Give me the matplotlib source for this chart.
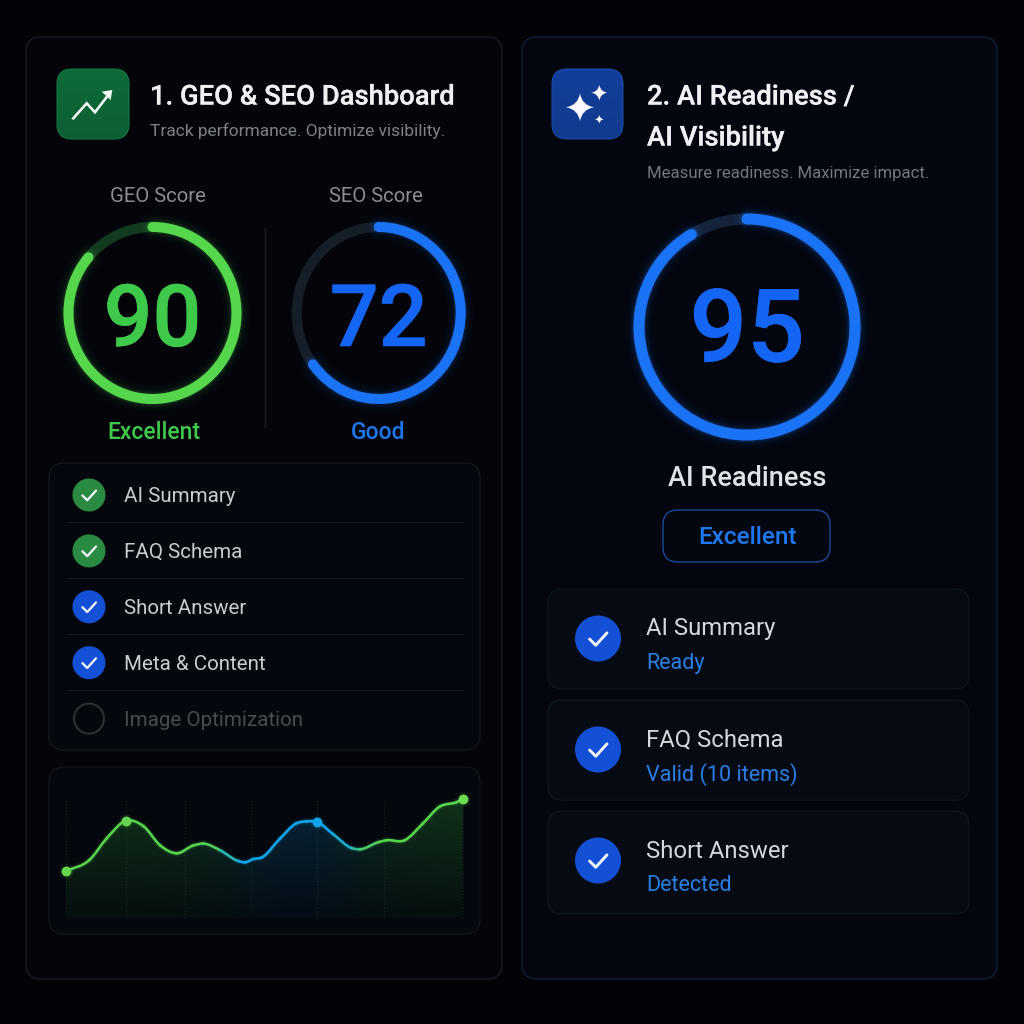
import numpy as np
import matplotlib
matplotlib.use("Agg")
import matplotlib.pyplot as plt
import matplotlib.patheffects as pe
from matplotlib.patches import FancyBboxPatch, Arc, Circle, PathPatch, Polygon
from matplotlib.path import Path
from matplotlib.colors import to_rgb

plt.rcParams['font.family'] = ['Roboto', 'DejaVu Sans']

# ---------- data ----------
left_title = "1. GEO & SEO Dashboard"
left_sub = "Track performance. Optimize visibility."
right_title = ["2. AI Readiness /", "AI Visibility"]
right_sub = "Measure readiness. Maximize impact."

score_names = ["GEO Score", "SEO Score"]
score_values = [90, 72]
score_sweeps = [311, 232]      # arc extent as drawn, degrees
score_grades = ["Excellent", "Good"]
ai_value = 95
ai_sweep = 329
ai_name = "AI Readiness"
ai_grade = "Excellent"

check_labels = ["AI Summary", "FAQ Schema", "Short Answer", "Meta & Content", "Image Optimization"]
check_states = ["green", "green", "blue", "blue", "off"]

card_titles = ["AI Summary", "FAQ Schema", "Short Answer"]
card_subs = ["Ready", "Valid (10 items)", "Detected"]

trend_x = [0, 6.0, 10.2, 15.1, 19.5, 23.7, 27.9, 32.0, 34.6, 38.8, 43.4, 45.1, 47.2, 49.2, 53.9,
           58.0, 60.6, 63.1, 67.3, 71.9, 74.0, 78.6, 80.7, 85.3, 89.9, 94.1, 98.3, 100]
trend_y = [39.5, 49.2, 66.9, 81.9, 77.4, 61.3, 54.5, 61.0, 62.7, 57.1, 48.0, 46.9, 49.7, 50.8, 66.9,
           79.7, 81.4, 81.1, 70.6, 59.0, 57.9, 63.8, 65.5, 65.5, 79.7, 93.8, 97.5, 100]
trend_grid = [0, 15.1, 30.1, 46.6, 63.1, 80, 100]
marker_x = [0, 15.1, 63.1, 100]
marker_y = [39.5, 81.9, 81.1, 100]
marker_c = ["#66d64e", "#66d64e", "#12a4ea", "#6cdc50"]

# ---------- palette ----------
BG = "#020307"
PANEL = "#03050b"
GREEN = "#55d64d"
GREEN_T = "#3fc94a"
BLUE = "#1a72f5"
BLUE_T = "#1565f5"

fig = plt.figure(figsize=(10.24, 10.24), dpi=100, facecolor=BG)
ax = fig.add_axes([0, 0, 1, 1])
ax.set_xlim(0, 1024)
ax.set_ylim(1024, 0)
ax.axis("off")
PX = 0.72


def box(x0, y0, x1, y1, r, fc, ec, lw=1.0, z=1):
    p = FancyBboxPatch((x0, y0), x1 - x0, y1 - y0, boxstyle=f"round,pad=0,rounding_size={r}",
                       fc=fc, ec=ec, lw=lw * PX, zorder=z)
    ax.add_patch(p)
    return p


def ring(cx, cy, rx, ry, w, sweep, color, track, glow=1.0):
    ax.add_patch(Arc((cx, cy), 2 * rx, 2 * ry, theta1=0, theta2=360, color=track, lw=w * PX, zorder=3))
    for extra, al in [(16, .02), (10, .03), (6, .05), (3, .09)]:
        a = Arc((cx, cy), 2 * rx, 2 * ry, theta1=-90, theta2=-90 + sweep, color=color,
                lw=(w + extra) * PX, alpha=al * glow, zorder=3, capstyle="round")
        ax.add_patch(a)
    ax.add_patch(Arc((cx, cy), 2 * rx, 2 * ry, theta1=-90, theta2=-90 + sweep, color=color,
                     lw=w * PX, zorder=4, capstyle="round"))


def label(x, y, s, size, color, weight="normal", ha="left", thick=0.0):
    t = ax.text(x, y, s, fontsize=size, color=color, fontweight=weight, ha=ha, va="center_baseline", zorder=6)
    if thick:
        t.set_path_effects([pe.withStroke(linewidth=thick, foreground=color)])
    return t


def check(cx, cy, r, fc):
    ax.add_patch(Circle((cx, cy), r, fc=fc, ec="none", zorder=4))
    s = r / 16 * (0.85 if r < 20 else 0.78)
    ax.plot([cx - 7.5 * s, cx - 2 * s, cx + 8 * s], [cy + 0.5 * s, cy + 6 * s, cy - 5 * s], color="#f2f6fa",
            lw=2.6 * s * PX, solid_capstyle="round", solid_joinstyle="round", zorder=5)


def icon(x0, y0, x1, y1, r, top, bottom, edge):
    p = box(x0, y0, x1, y1, r, "none", edge, 1.0, 3)
    t = np.linspace(0, 1, 64)[:, None]
    c0, c1 = np.array(to_rgb(top)), np.array(to_rgb(bottom))
    img = (c0 * (1 - t) + c1 * t)[:, None, :]
    im = ax.imshow(img, extent=(x0, x1, y1, y0), aspect="auto", zorder=2.5)
    im.set_clip_path(p)


def star(cx, cy, r):
    tips = [(cx, cy - r), (cx + r, cy), (cx, cy + r), (cx - r, cy)]
    verts, codes = [tips[0]], [Path.MOVETO]
    for i in range(1, 5):
        verts += [(cx + 0.14 * (tips[i - 1][0] + tips[i % 4][0] - 2 * cx),
                   cy + 0.14 * (tips[i - 1][1] + tips[i % 4][1] - 2 * cy)), tips[i % 4]]
        codes += [Path.CURVE3, Path.CURVE3]
    ax.add_patch(PathPatch(Path(verts, codes), fc="#f7f9fc", ec="none", zorder=5))


# ---------- panels ----------
box(26, 37, 502, 979, 15, PANEL, "#1a2027", 1.2)
box(522, 37, 997, 979, 15, "#03060e", "#10243f", 1.2)

# ---------- left header ----------
icon(57, 69, 129, 139, 15, "#0e6b38", "#0c5f33", "#17794a")
ax.plot([73.3, 86.7, 95, 109], [118.3, 103.3, 112.3, 94], color="#f3f7f5", lw=2.6 * PX, zorder=5,
        solid_joinstyle="miter")
ax.add_patch(Polygon([(101.7, 91.7), (112.3, 90), (110.7, 100)], fc="#f3f7f5", ec="none", zorder=5))
label(150, 94, left_title, 19.7, "#eef0f2", "medium", thick=0.2)
label(150, 129, left_sub, 12.5, "#7d8186")

# ---------- gauges ----------
centers = [(152.5, 313, 84, 86, 10), (378.7, 313, 82, 86, 10)]
tracks = ["#123a1f", "#151d27"]
cols = [GREEN, BLUE]
tcols = [GREEN_T, BLUE_T]
name_x = [158, 376]
grade_x = [154, 378]
for i, (cx, cy, rx, ry, w) in enumerate(centers):
    label(name_x[i], 195, score_names[i], 14.6, "#8a8e93", ha="center")
    ring(cx, cy, rx, ry, w, score_sweeps[i], cols[i], tracks[i])
    label(cx, 314, str(score_values[i]), 62, tcols[i], "medium", ha="center", thick=0.4)
    label(grade_x[i], 430, score_grades[i], 16.5, tcols[i] if i == 0 else "#1f76ec", "medium", ha="center")
ax.plot([265, 265], [228, 427], color="#1c2127", lw=1.2 * PX, zorder=2)

# ---------- left checklist ----------
box(49, 463, 480, 750, 15, "#04070d", "#171c23", 1.0)
for yy in [522, 578, 634, 690]:
    ax.plot([66, 462], [yy, yy], color="#12171d", lw=1 * PX, zorder=2)
for i, (lab, st) in enumerate(zip(check_labels, check_states)):
    yy = 495 + i * 55.9
    if st == "off":
        ax.add_patch(Circle((89, yy), 15, fc="none", ec="#2d3237", lw=2 * PX, zorder=4))
        label(124, yy - 0.5, lab, 14.8, "#484c51")
    else:
        check(89, yy, 16.5, "#2a8a41" if st == "green" else "#1350d6")
        label(124, yy - 0.5, lab, 14.8, "#c9ccd0")

# ---------- trend ----------
box(49, 767, 480, 934, 15, "#04070d", "#14191f", 1.0)
cax = fig.add_axes([66 / 1024, 1 - 918 / 1024, (463 - 66) / 1024, (918 - 799.3) / 1024], zorder=5)
cax.set_xlim(0, 100)
cax.set_ylim(0, 100)
cax.patch.set_alpha(0)
cax.axis("off")
tx, ty = np.array(trend_x), np.array(trend_y)

# Bezier handles so the read points are joined by a smooth curve
slopes = np.gradient(ty, tx)
verts = [(tx[0], ty[0])]
codes = [Path.MOVETO]
seg_paths = []
for i in range(len(tx) - 1):
    h = (tx[i + 1] - tx[i]) / 3
    c1 = (tx[i] + h, ty[i] + h * slopes[i])
    c2 = (tx[i + 1] - h, ty[i + 1] - h * slopes[i + 1])
    end = (tx[i + 1], ty[i + 1])
    seg_paths.append(Path([(tx[i], ty[i]), c1, c2, end], [Path.MOVETO, Path.CURVE4, Path.CURVE4, Path.CURVE4]))
    verts += [c1, c2, end]
    codes += [Path.CURVE4] * 3
verts += [(100, 0), (0, 0), (0, ty[0])]
codes += [Path.LINETO] * 3

gw = np.linspace(0, 100, 256)
gh = np.linspace(1, 0, 128)
blue_w = np.exp(-((gw - 58) / 20) ** 2)[None, :, None]
g_col = np.array(to_rgb("#2f9a35"))[None, None, :]
b_col = np.array(to_rgb("#0f6fa8"))[None, None, :]
rgb = np.broadcast_to(g_col * (1 - blue_w) + b_col * blue_w, (128, 256, 3))
alpha = np.broadcast_to((0.05 + 0.24 * gh)[:, None, None], (128, 256, 1))
im = cax.imshow(np.concatenate([rgb, alpha], axis=2), extent=(0, 100, 0, 100), aspect="auto", zorder=1)
fill = PathPatch(Path(verts, codes), transform=cax.transData, fc="none", ec="none")
cax.add_patch(fill)
im.set_clip_path(fill)
cax.set_xlim(0, 100)
cax.set_ylim(0, 100)

for gx in trend_grid:
    cax.plot([gx, gx], [0, 100], color="#141f1e", lw=0.8, ls=(0, (1, 2)), zorder=0.5, clip_on=False)
cax.plot([0, 100], [0, 0], color="#0e171a", lw=0.8, zorder=1)

mid_x = 0.5 * (tx[:-1] + tx[1:])
bw = np.clip((mid_x - 36) / 8, 0, 1) * np.clip((78 - mid_x) / 10, 0, 1)
c_g, c_b = np.array(to_rgb("#58d34c")), np.array(to_rgb("#12a6ec"))
seg_cols = c_g[None, :] * (1 - bw[:, None]) + c_b[None, :] * bw[:, None]
for lw, al, z in [(7, .05, 2), (4.5, .08, 2), (2.6, 1, 3)]:
    for sp, sc in zip(seg_paths, seg_cols):
        cax.add_patch(PathPatch(sp, fc="none", ec=sc, lw=lw * PX, alpha=al, capstyle="round", zorder=z))
for mx, my, mc in zip(marker_x, marker_y, marker_c):
    cax.scatter([mx], [my], s=110, color=mc, alpha=.10, linewidths=0, zorder=4, clip_on=False)
    cax.scatter([mx], [my], s=(11 * PX) ** 2 * 0.8, color=mc, linewidths=0, zorder=5, clip_on=False)

# ---------- right header ----------
icon(552, 69, 623, 139, 15, "#123f9c", "#123a8c", "#1a4fb0")
star(580, 107.3, 14)
star(599.3, 92.7, 8)
star(599.3, 119.3, 4.5)
label(647, 94, right_title[0], 19.7, "#eef0f2", "medium", thick=0.2)
label(647, 135, right_title[1], 19.7, "#eef0f2", "medium", thick=0.2)
label(647, 172, right_sub, 12.1, "#74787d")

# ---------- AI gauge ----------
ring(747, 327, 108, 108, 11, ai_sweep, BLUE, "#14233a", 1.4)
label(747, 324, str(ai_value), 73, BLUE_T, "medium", ha="center", thick=0.5)
label(747, 476, ai_name, 19.5, "#dfe2e6", "medium", ha="center")
box(663, 510, 830, 562, 15, "#03070f", "#1a4a98", 1.4)
label(747, 535.5, ai_grade, 17.5, "#1f78f0", "medium", ha="center")

# ---------- cards ----------
card_y = [(589, 689), (700, 800), (811, 914)]
for (y0, y1), t, s in zip(card_y, card_titles, card_subs):
    box(548, y0, 969, y1, 14, "#060b13", "#11181f", 1.0)
    check(598, y0 + 49.5, 23, "#1350d6")
    label(646, y0 + 37.5, t, 17.2, "#d4d7db")
    label(646, y0 + 72, s, 15.5, "#2b7ee6")

fig.savefig("out.png", dpi=100, facecolor=BG)
